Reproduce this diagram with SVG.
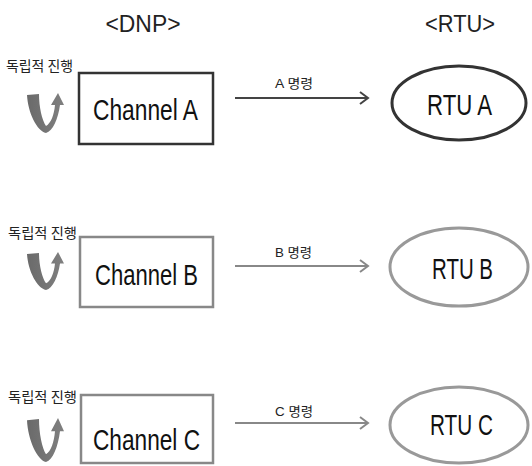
<svg xmlns="http://www.w3.org/2000/svg" width="532" height="466" viewBox="0 0 532 466">
<style>
.hdr{font-family:"Liberation Sans","Noto Sans",sans-serif;font-size:24px;fill:#222;text-anchor:middle}
.ch{font-family:"Liberation Sans","Noto Sans",sans-serif;font-size:30px;fill:#111}
.rtu{font-family:"Liberation Sans","Noto Sans",sans-serif;font-size:30px;fill:#111}
.ind{font-family:"Noto Sans CJK KR",sans-serif;font-size:14px;fill:#222}
.cmd{font-family:"Liberation Sans","Noto Sans CJK KR",sans-serif;font-size:13px;fill:#222}
.boxA{fill:#fff;stroke:#333;stroke-width:2.5}
.boxG{fill:#fff;stroke:#888;stroke-width:2.5}
.ellA{fill:#fff;stroke:#333;stroke-width:3}
.ellG{fill:#fff;stroke:#999;stroke-width:3}
.lnA{stroke:#444;stroke-width:2;fill:none}
.lnG{stroke:#888;stroke-width:2;fill:none}
.uturn{fill:url(#ug)}
</style>
<defs>
<linearGradient id="ug" x1="0" y1="0" x2="1" y2="0">
<stop offset="0" stop-color="#6a6a6a"/>
<stop offset="1" stop-color="#808080"/>
</linearGradient>
<path id="u" d="M0,2 C1,20 10,38 19,40 C26,38 31,26 33,12 L37,12 L31,0 L24,12 L28,12 C27,22 24,30 19,33 C15,27 12,14 12,1 Z"/>
<marker id="ahA" markerWidth="12" markerHeight="14" refX="10" refY="7" orient="auto" markerUnits="userSpaceOnUse">
<path d="M2,1 L10,7 L2,13" fill="none" stroke="#444" stroke-width="2"/>
</marker>
<marker id="ahG" markerWidth="12" markerHeight="14" refX="10" refY="7" orient="auto" markerUnits="userSpaceOnUse">
<path d="M2,1 L10,7 L2,13" fill="none" stroke="#888" stroke-width="2"/>
</marker>
</defs>

<g id="headers">
<text class="hdr" x="143" y="32" textLength="75" lengthAdjust="spacingAndGlyphs">&lt;DNP&gt;</text>
<text class="hdr" x="460" y="32" textLength="70" lengthAdjust="spacingAndGlyphs">&lt;RTU&gt;</text>
</g>

<g id="connectors">
<line class="lnA" x1="235" y1="98" x2="368" y2="98" marker-end="url(#ahA)"/>
<line class="lnG" x1="235" y1="266" x2="368" y2="266" marker-end="url(#ahG)"/>
<line class="lnG" x1="235" y1="423" x2="368" y2="423" marker-end="url(#ahG)"/>
<text class="cmd" x="275" y="88" textLength="38" lengthAdjust="spacingAndGlyphs">A 명령</text>
<text class="cmd" x="275" y="257" textLength="37" lengthAdjust="spacingAndGlyphs">B 명령</text>
<text class="cmd" x="275" y="416" textLength="38" lengthAdjust="spacingAndGlyphs">C 명령</text>
</g>

<g id="loopA">
<text class="ind" x="6" y="71" textLength="67" lengthAdjust="spacingAndGlyphs">독립적 진행</text>
<use href="#u" class="uturn" transform="translate(27,93)"/>
</g>
<g id="channelA">
<rect class="boxA" x="79" y="73" width="134" height="71"/>
<text class="ch" x="93" y="120" textLength="105" lengthAdjust="spacingAndGlyphs">Channel A</text>
</g>
<g id="rtuA">
<ellipse class="ellA" cx="459" cy="103" rx="67" ry="37"/>
<text class="rtu" x="427" y="115" textLength="65" lengthAdjust="spacingAndGlyphs">RTU A</text>
</g>

<g id="loopB">
<text class="ind" x="8" y="238" textLength="69" lengthAdjust="spacingAndGlyphs">독립적 진행</text>
<use href="#u" class="uturn" transform="translate(27,252) scale(1,0.95)"/>
</g>
<g id="channelB">
<rect class="boxG" x="80" y="237" width="133" height="70"/>
<text class="ch" x="95" y="285" textLength="103" lengthAdjust="spacingAndGlyphs">Channel B</text>
</g>
<g id="rtuB">
<ellipse class="ellG" cx="459" cy="267" rx="69" ry="39"/>
<text class="rtu" x="432" y="279" textLength="61" lengthAdjust="spacingAndGlyphs">RTU B</text>
</g>

<g id="loopC">
<text class="ind" x="8" y="402" textLength="69" lengthAdjust="spacingAndGlyphs">독립적 진행</text>
<use href="#u" class="uturn" transform="translate(27,418) scale(1,1.1)"/>
</g>
<g id="channelC">
<rect class="boxG" x="81" y="395" width="132" height="68"/>
<text class="ch" x="93" y="450" textLength="107" lengthAdjust="spacingAndGlyphs">Channel C</text>
</g>
<g id="rtuC">
<ellipse class="ellG" cx="459" cy="425" rx="69" ry="38"/>
<text class="rtu" x="430" y="435" textLength="63" lengthAdjust="spacingAndGlyphs">RTU C</text>
</g>
</svg>
